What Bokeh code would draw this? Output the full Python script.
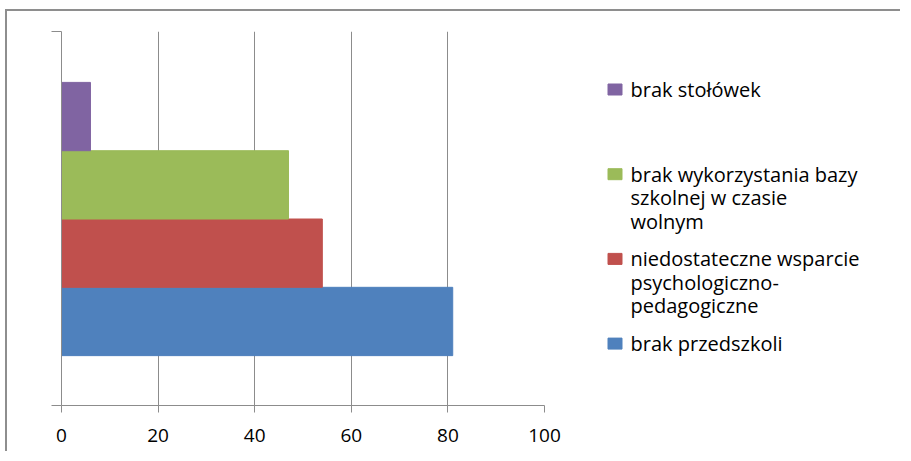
from bokeh.plotting import figure
from bokeh.models import Range1d, FixedTicker, ColumnDataSource, CustomLabelingPolicy
from bokeh.layouts import row
from bokeh.core.properties import value
from bokeh.embed import file_html
from bokeh.resources import INLINE

# ---- data ----
categories = [
    "brak przedszkoli",
    "niedostateczne wsparcie psychologiczno-pedagogiczne",
    "brak wykorzystania bazy szkolnej w czasie wolnym",
    "brak stołówek",
]
legend_labels = [
    "brak przedszkoli",
    "niedostateczne wsparcie\npsychologiczno-\npedagogiczne",
    "brak wykorzystania bazy\nszkolnej w czasie\nwolnym",
    "brak stołówek",
]
values = [81, 54, 47, 6]
colors = ["#4F81BD", "#C0504D", "#9BBB59", "#8064A2"]
x_ticks = [0, 20, 40, 60, 80, 100]

FONT = "Open Sans"
GRID = "#8c8c8c"
H = 440
TOP, BOTTOM, FH = 20, 46, 374

ypos = list(range(len(values)))
src = ColumnDataSource(dict(y=ypos, v=values, c=colors, cat=categories))

y0, y1 = -1.23, 4.245
p = figure(width=572, height=H, output_backend="svg", toolbar_location=None,
           x_range=Range1d(0, 100), y_range=Range1d(y0, y1),
           frame_width=483, frame_height=FH,
           min_border_left=54, min_border_top=TOP, min_border_bottom=BOTTOM,
           min_border_right=35)
p.outline_line_color = None
p.hbar(y="y", right="v", left=0, height=1, fill_color="c", line_color="c",
       source=src)

p.xaxis.ticker = FixedTicker(ticks=x_ticks)
p.xaxis.axis_line_color = GRID
p.xaxis.major_tick_line_color = GRID
p.xaxis.major_tick_out = 7
p.xaxis.major_tick_in = 0
p.xaxis.minor_tick_line_color = None
p.xaxis.major_label_text_font = FONT
p.xaxis.major_label_text_font_size = "19px"
p.xaxis.major_label_text_color = "#000000"
p.xaxis.major_label_standoff = 16

p.yaxis.ticker = FixedTicker(ticks=[y0 + 0.001, y1 - 0.001])
p.yaxis.major_label_policy = CustomLabelingPolicy(code="return new Set()")
p.yaxis.axis_line_color = GRID
p.yaxis.major_tick_line_color = GRID
p.yaxis.major_tick_out = 10
p.yaxis.major_tick_in = 0
p.yaxis.minor_tick_line_color = None

p.xgrid.grid_line_color = GRID
p.xgrid.ticker = FixedTicker(ticks=x_ticks)
p.ygrid.grid_line_color = None

# ---- legend panel: ranges set so that units equal page pixels ----
LW = 321
X0 = 7 + 572          # page x where the legend panel begins
lg = figure(width=LW, height=H, output_backend="svg", toolbar_location=None,
            x_range=Range1d(X0, X0 + LW), y_range=Range1d(11 + TOP + FH, 11 + TOP),
            frame_width=LW, frame_height=FH,
            min_border_left=0, min_border_right=0,
            min_border_top=TOP, min_border_bottom=BOTTOM)
lg.axis.visible = False
lg.grid.visible = False
lg.outline_line_color = None

order = list(reversed(range(len(values))))
item_y = [89 + k * 84.7 for k in range(len(order))]
LINE = 23.5
lsrc = ColumnDataSource(dict(
    y=item_y,
    c=[colors[i] for i in order],
))
tx, ty = [], []
for k, i in enumerate(order):
    for j, line in enumerate(legend_labels[i].split("\n")):
        tx.append(line)
        ty.append(item_y[k] + j * LINE)
tsrc = ColumnDataSource(dict(t=tx, y=ty))

lg.rect(x=614.5, y="y", width=14, height=11, fill_color="c", line_color="c",
        source=lsrc)
lg.text(x=630, y="y", text="t", text_font=value(FONT), text_font_size="20px",
        text_color="#000000", text_baseline="middle", text_align="left",
        source=tsrc)

layout = row(p, lg, styles={"border-top": "2px solid #8e8e8e",
                            "border-left": "2px solid #8e8e8e",
                            "position": "absolute",
                            "left": "5px", "top": "9px"})

open("out.html", "w").write(file_html(layout, INLINE))
